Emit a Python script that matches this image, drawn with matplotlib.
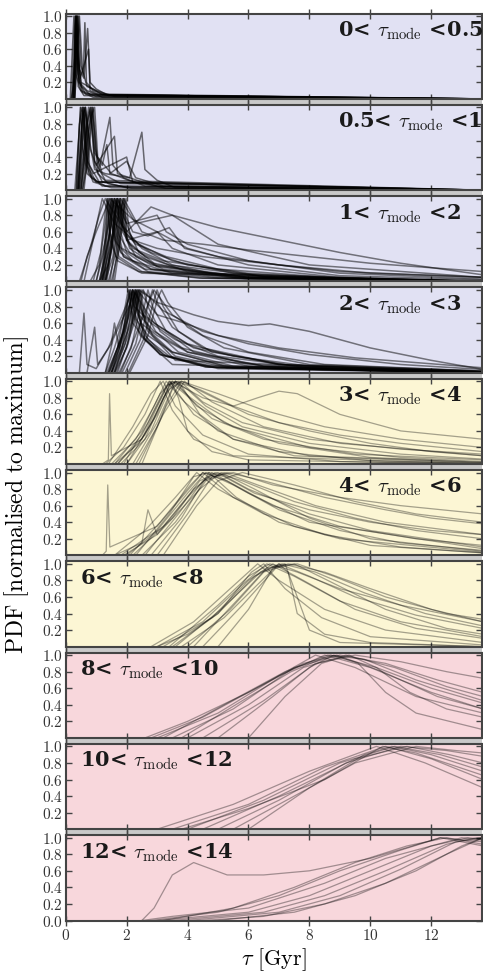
import matplotlib
matplotlib.use("Agg")
import matplotlib.pyplot as plt
from matplotlib.patches import Rectangle
from matplotlib.ticker import FuncFormatter

plt.rcParams['mathtext.fontset'] = 'cm'
plt.rcParams['font.family'] = ['DejaVu Serif']

# mode bins of the panels
BIN_LOW = ["0", "0.5", "1", "2", "3", "4", "6", "8", "10", "12"]
BIN_HIGH = ["0.5", "1", "2", "3", "4", "6", "8", "10", "12", "14"]

# PDF curves, (tau [Gyr], pdf) knots
CURVES_0 = [
    [(0.18, 0), (0.28, 0.2), (0.33, 1.0), (0.40, 0.3), (0.55, 0.08), (0.9, 0.02), (13.7, 0)],
    [(0.22, 0), (0.30, 0.5), (0.35, 1.0), (0.41, 0.15), (0.6, 0.04), (13.7, 0)],
    [(0.25, 0), (0.32, 0.6), (0.37, 1.0), (0.43, 0.4), (0.52, 0.15), (0.8, 0.05), (13.7, 0)],
    [(0.20, 0), (0.31, 1.0), (0.36, 0.5), (0.45, 0.2), (0.7, 0.1), (1.2, 0.02), (13.7, 0)],
    [(0.28, 0), (0.36, 0.7), (0.39, 1.0), (0.46, 0.35), (0.60, 0.25), (0.72, 0.85), (0.80, 0.2),
     (1.0, 0.12), (1.4, 0.04), (13.7, 0)],
    [(0.30, 0), (0.42, 1.0), (0.50, 0.4), (0.58, 0.3), (0.63, 0.92), (0.68, 0.2), (0.9, 0.1),
     (1.3, 0.05), (13.7, 0)],
    [(0.15, 0), (0.27, 1.0), (0.33, 0.3), (0.5, 0.1), (1.0, 0.03), (13.7, 0)],
    [(0.30, 0), (0.45, 1.0), (0.55, 0.35), (0.7, 0.15), (1.0, 0.1), (1.6, 0.03), (13.7, 0)],
    [(0.26, 0), (0.34, 1.0), (0.38, 0.6), (0.48, 0.25), (0.75, 0.6), (0.8, 0.1), (1.1, 0.05), (13.7, 0)],
    [(0.24, 0), (0.32, 0.8), (0.34, 1.0), (0.37, 0.7), (0.44, 0.2), (0.65, 0.06), (13.7, 0)],
    [(0.27, 0), (0.35, 0.9), (0.38, 1.0), (0.42, 0.5), (0.5, 0.2), (0.9, 0.12), (1.2, 0.05), (13.7, 0)],
]
CURVES_1 = [
    [(0.30, 0), (0.42, 0.6), (0.50, 1.0), (0.60, 0.9), (0.68, 0.3), (0.9, 0.1), (1.5, 0.03), (13.7, 0)],
    [(0.35, 0), (0.45, 0.8), (0.55, 1.0), (0.62, 0.6), (0.75, 0.2), (1.2, 0.05), (13.7, 0)],
    [(0.38, 0), (0.50, 0.7), (0.60, 1.0), (0.70, 0.4), (0.85, 0.15), (1.3, 0.05), (13.7, 0)],
    [(0.45, 0), (0.60, 0.5), (0.75, 1.0), (0.85, 0.8), (0.95, 0.3), (1.2, 0.1), (2.0, 0.03), (13.7, 0)],
    [(0.50, 0), (0.70, 0.6), (0.85, 1.0), (0.95, 0.7), (1.05, 0.2), (1.4, 0.08), (2.2, 0.02), (13.7, 0)],
    [(0.55, 0), (0.75, 0.4), (0.90, 1.0), (1.00, 0.5), (1.10, 0.25), (1.45, 0.88), (1.55, 0.3),
     (1.9, 0.15), (2.6, 0.05), (13.7, 0)],
    [(0.40, 0), (0.55, 0.9), (0.65, 1.0), (0.80, 0.5), (1.00, 0.3), (1.60, 0.65), (1.70, 0.2),
     (2.5, 0.1), (3.3, 0.02), (13.7, 0)],
    [(0.45, 0), (0.65, 1.0), (0.78, 0.6), (0.95, 0.25), (1.30, 0.2), (2.10, 0.15), (2.50, 0.7),
     (2.60, 0.25), (3.0, 0.12), (3.6, 0.03), (13.7, 0)],
    [(0.50, 0), (0.70, 0.8), (0.82, 1.0), (0.95, 0.45), (1.20, 0.3), (1.35, 0.55), (1.45, 0.2),
     (2.00, 0.35), (2.3, 0.15), (3.2, 0.05), (13.7, 0)],
    [(0.60, 0), (0.85, 0.9), (0.95, 1.0), (1.05, 0.4), (1.5, 0.2), (2.2, 0.1), (3.0, 0.05), (13.7, 0)],
    [(0.35, 0), (0.48, 1.0), (0.56, 0.5), (0.7, 0.2), (1.0, 0.1), (13.7, 0)],
    [(0.42, 0), (0.58, 1.0), (0.66, 0.9), (0.72, 0.35), (0.9, 0.2), (2.0, 0.4), (2.2, 0.1), (13.7, 0)],
    [(0.40, 0), (0.50, 0.5), (0.56, 1.0), (0.62, 0.7), (0.70, 0.3), (1.0, 0.1), (13.7, 0)],
    [(0.42, 0), (0.55, 0.6), (0.63, 1.0), (0.70, 0.8), (0.78, 0.3), (1.1, 0.1), (13.7, 0)],
    [(0.50, 0), (0.65, 0.6), (0.80, 1.0), (0.88, 0.7), (0.95, 0.35), (1.3, 0.12), (13.7, 0)],
    [(0.55, 0), (0.75, 0.7), (0.88, 1.0), (0.96, 0.5), (1.2, 0.2), (1.8, 0.08), (13.7, 0)],
]
CURVES_2 = [
    [(0.90, 0), (1.15, 0.35), (1.27, 0.75), (1.35, 1.0), (1.45, 0.6), (1.65, 0.3), (2.4, 0.12), (4.4, 0.04), (13.7, 0)],
    [(1.00, 0), (1.25, 0.35), (1.37, 0.75), (1.45, 1.0), (1.55, 0.6), (1.75, 0.3), (2.5, 0.12), (4.5, 0.04), (13.7, 0)],
    [(1.10, 0), (1.30, 0.3), (1.42, 0.8), (1.50, 1.0), (1.58, 0.7), (1.80, 0.35), (2.6, 0.15), (5.0, 0.05), (13.7, 0)],
    [(1.20, 0), (1.40, 0.35), (1.52, 0.8), (1.60, 1.0), (1.70, 0.55), (1.90, 0.3), (2.7, 0.12), (5.0, 0.04), (13.7, 0)],
    [(1.25, 0), (1.50, 0.4), (1.62, 0.85), (1.70, 1.0), (1.80, 0.6), (2.00, 0.35), (2.8, 0.15), (5.5, 0.05), (13.7, 0)],
    [(1.30, 0), (1.55, 0.3), (1.70, 0.75), (1.80, 1.0), (1.90, 0.65), (2.10, 0.4), (3.0, 0.18), (6.0, 0.05), (13.7, 0)],
    [(1.40, 0), (1.65, 0.35), (1.80, 0.8), (1.90, 1.0), (2.00, 0.5), (2.30, 0.3), (3.2, 0.15), (6.0, 0.04), (13.7, 0)],
    [(1.50, 0), (1.75, 0.4), (1.90, 0.85), (1.98, 1.0), (2.08, 0.6), (2.40, 0.35), (3.4, 0.2), (6.5, 0.06), (13.7, 0)],
    [(1.15, 0), (1.40, 0.5), (1.50, 0.9), (1.55, 1.0), (1.62, 0.75), (1.85, 0.4), (2.8, 0.2), (5.5, 0.06), (13.7, 0)],
    [(0.80, 0), (1.10, 0.2), (1.30, 0.7), (1.40, 1.0), (1.50, 0.7), (1.70, 0.45), (2.2, 0.25), (3.5, 0.1), (13.7, 0)],
    [(1.10, 0), (1.40, 0.2), (1.55, 0.6), (1.65, 1.0), (1.75, 0.8), (2.00, 0.5), (2.6, 0.3), (4.0, 0.12), (8.0, 0.03), (13.7, 0)],
    [(1.30, 0), (1.55, 0.45), (1.68, 0.9), (1.75, 1.0), (1.85, 0.7), (2.10, 0.45), (2.9, 0.22), (4.5, 0.1), (13.7, 0)],
    [(1.15, 0), (1.30, 0.5), (1.38, 1.0), (1.46, 0.5), (1.70, 0.25), (2.5, 0.1), (13.7, 0)],
    [(1.25, 0), (1.45, 0.6), (1.53, 1.0), (1.62, 0.5), (1.90, 0.3), (2.8, 0.15), (6.0, 0.03), (13.7, 0)],
    [(1.35, 0), (1.58, 0.6), (1.67, 1.0), (1.76, 0.55), (2.10, 0.35), (3.0, 0.2), (6.0, 0.05), (13.7, 0)],
    [(1.45, 0), (1.70, 0.6), (1.78, 1.0), (1.86, 0.6), (2.20, 0.4), (3.2, 0.25), (6.5, 0.06), (13.7, 0)],
    [(1.55, 0), (1.78, 0.6), (1.86, 1.0), (1.94, 0.6), (2.30, 0.45), (3.3, 0.3), (5.0, 0.15), (9.0, 0.04), (13.7, 0)],
    [(1.60, 0), (1.85, 0.65), (1.93, 1.0), (2.02, 0.5), (2.50, 0.55), (3.0, 0.6), (3.5, 0.4), (5.0, 0.2), (9.0, 0.05), (13.7, 0)],
    [(0.45, 0), (0.80, 0.4), (1.10, 0.8), (1.30, 1.0), (1.80, 0.7), (2.5, 0.4), (3.5, 0.2), (5.0, 0.08), (8.0, 0.02), (13.7, 0)],
    [(0.60, 0), (0.90, 0.5), (1.20, 1.0), (1.60, 0.7), (2.4, 0.45), (3.5, 0.25), (5.5, 0.1), (9.0, 0.03), (13.7, 0)],
    [(1.00, 0), (1.30, 0.5), (1.60, 1.0), (2.00, 0.6), (2.8, 0.9), (3.5, 0.8), (5.0, 0.45), (8.0, 0.2), (13.7, 0.05)],
    [(1.20, 0), (1.50, 0.5), (1.80, 1.0), (2.30, 0.7), (3.5, 0.8), (5.0, 0.65), (7.0, 0.5), (9.0, 0.35),
     (11.0, 0.22), (13.7, 0.08)],
    [(1.30, 0), (1.60, 0.6), (1.90, 1.0), (2.50, 0.6), (3.2, 0.5), (4.5, 0.45), (6.0, 0.38), (8.0, 0.3),
     (10.0, 0.22), (13.7, 0.12)],
    [(1.10, 0), (1.40, 0.5), (1.70, 1.0), (2.20, 0.5), (3.0, 0.4), (4.5, 0.3), (6.5, 0.22), (9.0, 0.12), (13.7, 0.05)],
    [(1.20, 0), (1.35, 0.6), (1.50, 1.0), (2.00, 0.55), (2.8, 0.35), (4.0, 0.2), (6.0, 0.1), (9.0, 0.04), (13.7, 0.01)],
    [(0.50, 0), (0.70, 0.3), (1.00, 0.6), (1.45, 1.0), (2.2, 0.75), (3.0, 0.6), (4.0, 0.4), (6.0, 0.2), (9.0, 0.07), (13.7, 0.02)],
    [(1.20, 0), (1.60, 1.0), (2.00, 0.7), (2.5, 0.75), (3.0, 0.8), (3.3, 0.6), (4.0, 0.45), (6.0, 0.25), (9.0, 0.1), (13.7, 0.03)],
    [(1.30, 0), (1.70, 1.0), (2.20, 0.6), (2.7, 0.55), (3.4, 0.65), (3.9, 0.4), (5.0, 0.3), (7.0, 0.2), (10.0, 0.1), (13.7, 0.05)],
]
CURVES_3 = [
    [(1.35, 0), (1.70, 0.3), (1.93, 0.75), (2.05, 1.0), (2.17, 0.75), (2.45, 0.45), (3.1, 0.22), (4.6, 0.07), (13.7, 0)],
    [(1.42, 0), (1.77, 0.3), (2.00, 0.75), (2.12, 1.0), (2.24, 0.75), (2.52, 0.45), (3.1, 0.22), (4.6, 0.07), (13.7, 0)],
    [(1.50, 0), (1.85, 0.3), (2.08, 0.75), (2.20, 1.0), (2.32, 0.75), (2.60, 0.45), (3.2, 0.22), (4.7, 0.07), (13.7, 0)],
    [(1.45, 0), (1.80, 0.4), (2.12, 0.85), (2.25, 1.0), (2.38, 0.7), (2.70, 0.4), (3.4, 0.2), (5.0, 0.06), (13.7, 0)],
    [(1.55, 0), (1.95, 0.35), (2.18, 0.8), (2.30, 1.0), (2.42, 0.8), (2.75, 0.5), (3.5, 0.25), (5.2, 0.08), (13.7, 0)],
    [(1.60, 0), (2.00, 0.3), (2.25, 0.75), (2.38, 1.0), (2.50, 0.75), (2.85, 0.45), (3.6, 0.2), (5.3, 0.06), (13.7, 0)],
    [(1.65, 0), (2.05, 0.35), (2.32, 0.8), (2.45, 1.0), (2.58, 0.75), (2.95, 0.5), (3.7, 0.25), (5.5, 0.08), (13.7, 0)],
    [(1.75, 0), (2.15, 0.3), (2.42, 0.75), (2.55, 1.0), (2.70, 0.8), (3.10, 0.5), (4.0, 0.25), (6.0, 0.08), (13.7, 0)],
    [(1.85, 0), (2.30, 0.35), (2.58, 0.8), (2.70, 1.0), (2.85, 0.8), (3.30, 0.5), (4.2, 0.25), (6.5, 0.08), (13.7, 0)],
    [(1.95, 0), (2.45, 0.4), (2.72, 0.85), (2.85, 1.0), (3.00, 0.85), (3.50, 0.55), (4.5, 0.3), (7.0, 0.1), (13.7, 0.01)],
    [(2.05, 0), (2.55, 0.4), (2.88, 0.85), (3.00, 1.0), (3.20, 0.8), (3.70, 0.5), (4.8, 0.25), (7.5, 0.08), (13.7, 0.01)],
    [(2.10, 0), (2.70, 0.45), (3.02, 0.9), (3.15, 1.0), (3.35, 0.85), (4.00, 0.55), (5.2, 0.3), (8.0, 0.1), (13.7, 0.02)],
    [(1.40, 0), (1.90, 0.5), (2.08, 1.0), (2.20, 0.6), (2.60, 0.4), (3.3, 0.2), (5.0, 0.05), (13.7, 0)],
    [(1.50, 0), (2.00, 0.55), (2.18, 1.0), (2.30, 0.65), (2.70, 0.45), (3.5, 0.25), (5.5, 0.06), (13.7, 0)],
    [(1.60, 0), (2.10, 0.6), (2.28, 1.0), (2.40, 0.7), (2.90, 0.5), (3.8, 0.3), (6.0, 0.1), (13.7, 0.01)],
    [(1.50, 0), (2.15, 0.6), (2.34, 1.0), (2.46, 0.6), (3.00, 0.45), (4.0, 0.25), (6.5, 0.08), (13.7, 0.01)],
    [(1.70, 0), (2.25, 0.6), (2.42, 1.0), (2.55, 0.7), (3.10, 0.55), (4.2, 0.3), (7.0, 0.1), (13.7, 0.02)],
    [(1.30, 0), (1.60, 0.3), (2.00, 0.8), (2.12, 1.0), (2.25, 0.8), (2.80, 0.6), (3.6, 0.4), (5.0, 0.2), (8.0, 0.06), (13.7, 0)],
    [(0.45, 0), (0.60, 0.72), (0.70, 0.1), (1.0, 0.05), (1.40, 0.3), (2.20, 1.0), (2.60, 0.4), (3.5, 0.1), (13.7, 0)],
    [(0.70, 0), (0.95, 0.55), (1.05, 0.1), (1.50, 0.35), (1.60, 0.6), (1.75, 0.3), (2.30, 1.0), (2.70, 0.5),
     (3.6, 0.15), (13.7, 0)],
    [(1.50, 0), (2.00, 0.6), (2.40, 1.0), (3.0, 0.85), (3.8, 0.75), (4.2, 0.7), (5.0, 0.62), (6.0, 0.57),
     (6.7, 0.59), (8.0, 0.5), (10.0, 0.3), (12.0, 0.15), (13.7, 0.04)],
    [(1.60, 0), (2.10, 0.5), (2.50, 1.0), (3.2, 0.75), (4.5, 0.5), (6.0, 0.35), (8.0, 0.22), (11.0, 0.1), (13.7, 0.04)],
    [(1.40, 0), (1.90, 0.5), (2.20, 1.0), (2.9, 0.6), (4.0, 0.35), (5.5, 0.2), (8.0, 0.08), (13.7, 0.01)],
    [(1.80, 0), (2.40, 0.55), (2.90, 1.0), (3.5, 0.7), (4.5, 0.45), (6.0, 0.25), (8.5, 0.1), (13.7, 0.02)],
    [(1.30, 0), (1.55, 0.4), (1.80, 0.6), (2.35, 1.0), (3.0, 0.7), (3.9, 0.6), (5.0, 0.45), (7.0, 0.3),
     (9.5, 0.18), (13.7, 0.06)],
]
CURVES_4 = [
    [(1.5, 0), (2.3, 0.3), (2.9, 0.7), (3.3, 1.0), (3.9, 0.75), (5.0, 0.4), (7.0, 0.15), (10.0, 0.04), (13.7, 0.01)],
    [(1.6, 0), (2.5, 0.4), (3.1, 0.85), (3.5, 1.0), (4.1, 0.8), (5.2, 0.5), (7.0, 0.25), (10.0, 0.08), (13.7, 0.02)],
    [(1.8, 0), (2.6, 0.3), (3.2, 0.8), (3.6, 1.0), (4.3, 0.7), (5.5, 0.45), (8.0, 0.2), (11.0, 0.08), (13.7, 0.03)],
    [(1.4, 0), (2.2, 0.45), (2.8, 0.85), (3.2, 1.0), (3.6, 0.7), (4.5, 0.35), (6.0, 0.12), (9.0, 0.03), (13.7, 0)],
    [(2.0, 0), (2.8, 0.4), (3.4, 0.9), (3.8, 1.0), (4.6, 0.85), (6.0, 0.6), (8.0, 0.4), (10.0, 0.25), (12.0, 0.15), (13.7, 0.1)],
    [(2.2, 0), (3.0, 0.5), (3.6, 1.0), (4.4, 0.9), (5.5, 0.7), (7.0, 0.5), (9.0, 0.35), (11.0, 0.25), (13.7, 0.15)],
    [(1.2, 0), (1.40, 0.05), (1.44, 0.85), (1.5, 0.1), (2.5, 0.3), (3.4, 1.0), (4.2, 0.6), (5.5, 0.3), (8.0, 0.1), (13.7, 0.02)],
    [(1.7, 0), (2.6, 0.35), (3.5, 1.0), (4.5, 0.8), (5.5, 0.7), (6.3, 0.8), (7.0, 0.88), (7.6, 0.85), (9.0, 0.6),
     (11.0, 0.4), (13.7, 0.3)],
    [(2.4, 0), (3.2, 0.6), (3.9, 1.0), (4.8, 0.75), (6.5, 0.45), (9.0, 0.25), (13.7, 0.1)],
    [(1.9, 0), (2.7, 0.5), (3.3, 0.95), (3.7, 1.0), (4.4, 0.6), (5.5, 0.3), (7.5, 0.1), (13.7, 0.01)],
    [(2.5, 0), (3.3, 0.7), (3.8, 1.0), (5.0, 0.85), (6.5, 0.65), (8.5, 0.45), (11.0, 0.3), (13.7, 0.2)],
    [(1.3, 0), (1.9, 0.2), (2.6, 0.6), (3.1, 1.0), (3.5, 0.65), (4.2, 0.3), (5.5, 0.1), (13.7, 0)],
    [(1.6, 0), (2.4, 0.25), (3.0, 0.6), (3.45, 1.0), (3.7, 0.8), (4.0, 0.4), (4.8, 0.15), (6.0, 0.05), (13.7, 0)],
    [(2.0, 0), (2.9, 0.55), (3.4, 0.95), (3.6, 1.0), (4.0, 0.9), (4.6, 0.7), (5.8, 0.45), (8.0, 0.25), (11.0, 0.12), (13.7, 0.06)],
    [(1.7, 0), (2.5, 0.35), (3.2, 0.85), (3.4, 1.0), (3.9, 0.85), (4.8, 0.55), (6.5, 0.3), (9.5, 0.12), (13.7, 0.05)],
    [(2.3, 0), (3.0, 0.45), (3.5, 0.9), (3.75, 1.0), (4.5, 0.75), (5.8, 0.5), (8.0, 0.3), (11.0, 0.18), (13.7, 0.12)],
]
CURVES_5 = [
    [(1.8, 0), (3.0, 0.3), (4.0, 0.75), (4.6, 1.0), (5.5, 0.85), (7.0, 0.55), (9.0, 0.3), (11.0, 0.15), (13.7, 0.06)],
    [(2.0, 0), (3.2, 0.35), (4.2, 0.8), (4.9, 1.0), (5.8, 0.9), (7.5, 0.65), (9.5, 0.45), (11.5, 0.3), (13.7, 0.2)],
    [(2.2, 0), (3.5, 0.45), (4.4, 0.9), (5.0, 1.0), (6.0, 0.8), (8.0, 0.5), (10.0, 0.3), (13.7, 0.1)],
    [(1.6, 0), (2.6, 0.3), (3.6, 0.7), (4.3, 1.0), (5.0, 0.8), (6.5, 0.5), (8.5, 0.25), (11.0, 0.1), (13.7, 0.03)],
    [(2.5, 0), (3.6, 0.4), (4.6, 0.9), (5.3, 1.0), (6.5, 0.9), (8.5, 0.7), (10.5, 0.55), (12.0, 0.45), (13.7, 0.38)],
    [(3.0, 0), (4.0, 0.5), (4.8, 0.95), (5.5, 1.0), (6.8, 0.85), (9.0, 0.7), (11.0, 0.6), (13.7, 0.5)],
    [(1.2, 0), (1.33, 0.05), (1.38, 0.85), (1.45, 0.1), (3.0, 0.35), (4.5, 1.0), (5.5, 0.7), (7.5, 0.35), (10.0, 0.12), (13.7, 0.03)],
    [(2.8, 0), (3.8, 0.45), (4.7, 1.0), (5.2, 0.95), (6.2, 0.75), (8.0, 0.55), (10.0, 0.4), (12.0, 0.3), (13.7, 0.25)],
    [(1.9, 0), (3.0, 0.25), (3.9, 0.6), (4.4, 0.8), (5.1, 1.0), (6.2, 0.8), (8.0, 0.45), (10.0, 0.2), (13.7, 0.05)],
    [(2.3, 0), (3.4, 0.5), (4.2, 0.95), (4.7, 1.0), (5.6, 0.7), (7.0, 0.4), (9.0, 0.2), (13.7, 0.04)],
    [(3.2, 0), (4.3, 0.6), (5.0, 0.9), (5.8, 1.0), (7.5, 0.85), (9.5, 0.65), (11.5, 0.5), (13.7, 0.4)],
    [(1.6, 0), (2.5, 0.15), (2.7, 0.55), (3.0, 0.25), (4.0, 0.7), (4.8, 1.0), (6.0, 0.75), (8.0, 0.4), (13.7, 0.08)],
    [(2.1, 0), (3.1, 0.4), (4.1, 0.85), (4.5, 1.0), (5.3, 0.9), (6.8, 0.6), (9.0, 0.35), (11.5, 0.2), (13.7, 0.12)],
    [(2.6, 0), (3.7, 0.5), (4.5, 0.9), (5.2, 1.0), (6.3, 0.85), (8.2, 0.6), (10.5, 0.4), (13.7, 0.25)],
]
CURVES_6 = [
    [(3.0, 0), (4.5, 0.3), (5.8, 0.75), (6.6, 1.0), (7.5, 0.85), (9.0, 0.55), (11.0, 0.3), (13.7, 0.12)],
    [(3.5, 0), (5.0, 0.4), (6.2, 0.85), (7.0, 1.0), (8.0, 0.85), (9.5, 0.6), (11.5, 0.38), (13.7, 0.22)],
    [(3.2, 0), (4.8, 0.35), (6.0, 0.8), (6.8, 1.0), (7.8, 0.8), (9.5, 0.45), (11.5, 0.22), (13.7, 0.1)],
    [(4.0, 0), (5.4, 0.45), (6.5, 0.9), (7.3, 1.0), (8.5, 0.9), (10.0, 0.7), (12.0, 0.45), (13.7, 0.3)],
    [(4.5, 0), (5.8, 0.5), (6.9, 0.95), (7.6, 1.0), (8.8, 0.85), (10.5, 0.6), (12.5, 0.4), (13.7, 0.33)],
    [(2.8, 0), (4.2, 0.3), (5.4, 0.7), (6.3, 1.0), (7.0, 0.8), (8.5, 0.45), (10.5, 0.2), (13.7, 0.05)],
    [(3.8, 0), (5.2, 0.35), (6.3, 0.75), (7.0, 1.0), (7.3, 0.9), (7.6, 0.4), (8.5, 0.15), (10.0, 0.05), (13.7, 0)],
    [(5.0, 0), (6.0, 0.45), (6.8, 0.95), (7.2, 1.0), (7.6, 0.6), (8.0, 0.2), (9.0, 0.05), (13.7, 0)],
    [(3.4, 0), (5.0, 0.5), (6.0, 0.85), (6.7, 1.0), (7.6, 0.9), (9.0, 0.7), (11.0, 0.5), (13.7, 0.3)],
    [(4.2, 0), (5.6, 0.55), (6.6, 0.95), (7.5, 1.0), (8.6, 0.8), (10.5, 0.45), (12.5, 0.22), (13.7, 0.15)],
    [(3.0, 0), (4.0, 0.15), (5.0, 0.4), (6.1, 0.9), (6.5, 1.0), (7.2, 0.7), (8.4, 0.35), (10.0, 0.12), (13.7, 0.02)],
    [(3.6, 0), (5.1, 0.45), (6.4, 0.9), (7.1, 1.0), (8.2, 0.9), (9.8, 0.65), (11.8, 0.4), (13.7, 0.25)],
]
CURVES_7 = [
    [(3.0, 0), (5.0, 0.3), (7.0, 0.75), (8.5, 1.0), (10.0, 0.85), (12.0, 0.55), (13.7, 0.35)],
    [(3.5, 0), (5.5, 0.35), (7.5, 0.85), (9.0, 1.0), (10.5, 0.9), (12.2, 0.7), (13.7, 0.55)],
    [(4.0, 0), (6.0, 0.4), (7.8, 0.85), (9.2, 1.0), (10.8, 0.85), (12.5, 0.62), (13.7, 0.5)],
    [(2.8, 0), (4.5, 0.25), (6.5, 0.65), (8.2, 1.0), (9.5, 0.85), (11.5, 0.5), (13.7, 0.3)],
    [(4.5, 0), (6.5, 0.45), (8.2, 0.9), (9.5, 1.0), (11.0, 0.92), (12.5, 0.8), (13.7, 0.72)],
    [(5.0, 0), (6.8, 0.5), (8.0, 0.85), (8.8, 1.0), (9.6, 0.9), (10.5, 0.55), (11.5, 0.3), (13.7, 0.1)],
    [(3.2, 0), (5.2, 0.4), (7.2, 0.8), (8.6, 1.0), (9.8, 0.95), (11.5, 0.7), (13.7, 0.45)],
    [(6.0, 0), (7.2, 0.5), (8.4, 0.9), (9.3, 1.0), (10.2, 0.85), (11.3, 0.55), (12.5, 0.35), (13.7, 0.25)],
    [(3.8, 0), (5.8, 0.45), (7.4, 0.8), (8.7, 1.0), (10.2, 0.85), (12.0, 0.6), (13.7, 0.42)],
    [(2.6, 0), (4.0, 0.2), (6.0, 0.55), (7.8, 0.9), (8.9, 1.0), (10.4, 0.8), (12.2, 0.5), (13.7, 0.35)],
]
CURVES_8 = [
    [(3.5, 0), (6.0, 0.3), (8.5, 0.75), (10.5, 1.0), (12.0, 0.85), (13.7, 0.6)],
    [(4.0, 0), (6.5, 0.35), (9.0, 0.8), (10.8, 1.0), (12.3, 0.9), (13.7, 0.75)],
    [(3.0, 0), (5.5, 0.3), (8.0, 0.7), (10.2, 1.0), (11.8, 0.8), (13.7, 0.5)],
    [(5.0, 0), (7.0, 0.35), (9.2, 0.8), (11.0, 1.0), (12.5, 0.95), (13.7, 0.88)],
    [(4.5, 0), (7.0, 0.4), (9.5, 0.85), (11.2, 1.0), (12.6, 0.9), (13.7, 0.8)],
    [(6.0, 0), (8.0, 0.5), (9.8, 0.9), (10.7, 1.0), (12.0, 0.9), (13.7, 0.7)],
    [(3.8, 0), (6.0, 0.25), (8.5, 0.6), (10.4, 1.0), (11.5, 0.92), (13.7, 0.65)],
    [(5.5, 0), (7.5, 0.4), (9.5, 0.8), (11.5, 1.0), (12.8, 0.95), (13.7, 0.92)],
]
CURVES_9 = [
    [(3.0, 0), (6.0, 0.1), (8.0, 0.3), (10.0, 0.6), (12.0, 0.9), (13.0, 1.0), (13.7, 0.97)],
    [(3.5, 0), (6.5, 0.1), (8.5, 0.3), (10.5, 0.6), (12.5, 0.92), (13.5, 1.0), (13.7, 1.0)],
    [(4.0, 0), (7.0, 0.1), (9.0, 0.3), (11.0, 0.62), (12.8, 0.95), (13.7, 1.0)],
    [(2.8, 0), (5.0, 0.1), (7.0, 0.3), (9.0, 0.6), (11.0, 0.85), (12.3, 1.0), (13.7, 0.9)],
    [(5.0, 0), (7.5, 0.1), (9.5, 0.3), (11.5, 0.6), (13.0, 0.9), (13.7, 1.0)],
    [(2.5, 0), (2.9, 0.15), (3.5, 0.55), (4.2, 0.7), (5.3, 0.55), (6.5, 0.55), (8.0, 0.6), (10.0, 0.75),
     (12.3, 1.0), (13.7, 0.95)],
    [(2.5, 0), (3.5, 0.05), (6.0, 0.15), (8.5, 0.45), (10.5, 0.75), (12.0, 0.9), (13.2, 1.0), (13.7, 0.98)],
    [(4.5, 0), (6.5, 0.05), (8.5, 0.2), (10.5, 0.45), (12.5, 0.8), (13.7, 1.0)],
    [(3.2, 0), (5.5, 0.15), (7.5, 0.4), (9.5, 0.7), (11.2, 0.9), (12.5, 1.0), (13.7, 0.92)],
]
ALL_CURVES = [CURVES_0, CURVES_1, CURVES_2, CURVES_3, CURVES_4,
              CURVES_5, CURVES_6, CURVES_7, CURVES_8, CURVES_9]

LAVENDER = '#e1e1f3'
YELLOW = '#fcf6d4'
PINK = '#f8d7dc'
BG = [LAVENDER] * 4 + [YELLOW] * 3 + [PINK] * 3
LINE_ALPHA = [0.6, 0.55, 0.5, 0.5, 0.35, 0.35, 0.35, 0.35, 0.35, 0.35]
LINE_WIDTH = [1.1, 1.1, 1.1, 1.1, 0.9, 0.9, 0.9, 0.9, 0.9, 0.9]
TITLE_X = [0.655] * 6 + [0.034] * 4

fig, axes = plt.subplots(10, 1, figsize=(4.83, 9.71), dpi=100, sharex=True)
fig.subplots_adjust(left=0.136, right=0.997, top=0.986, bottom=0.052, hspace=0.07)
fig.add_artist(Rectangle((0.136, 0.052), 0.861, 0.934, transform=fig.transFigure,
                         facecolor='#c9c9c9', edgecolor='none', zorder=-1))

fmt_y = FuncFormatter(lambda v, _: r"$%.1f$" % v)
fmt_x = FuncFormatter(lambda v, _: r"$%d$" % v)

for i, ax in enumerate(axes):
    ax.set_facecolor(BG[i])
    for c in ALL_CURVES[i]:
        ax.plot([p[0] for p in c], [p[1] for p in c], color='k',
                lw=LINE_WIDTH[i], alpha=LINE_ALPHA[i])
    ax.set_xlim(0, 13.65)
    ax.set_ylim(0, 1.03)
    if i == 9:
        ax.set_yticks([0.0, 0.2, 0.4, 0.6, 0.8, 1.0])
    else:
        ax.set_yticks([0.2, 0.4, 0.6, 0.8, 1.0])
    ax.set_xticks([0, 2, 4, 6, 8, 10, 12])
    ax.yaxis.set_major_formatter(fmt_y)
    ax.xaxis.set_major_formatter(fmt_x)
    ax.tick_params(direction='in', top=True, right=True, length=4, width=1,
                   color='#444444', labelsize=11, labelcolor='#333333', pad=2)
    ax.tick_params(axis='x', direction='inout', length=7)
    for s in ax.spines.values():
        s.set_color('#444444')
        s.set_linewidth(1.5)
    title = r"%s< $\tau_{\rm mode}$ <%s" % (BIN_LOW[i], BIN_HIGH[i])
    ax.text(TITLE_X[i], 0.8, title, transform=ax.transAxes, ha='left', va='center',
            fontsize=15, fontweight='bold', color='#1a1a1a')

axes[-1].set_xlabel(r"$\tau\ [\mathrm{Gyr}]$", fontsize=16, labelpad=2)
fig.text(0.035, 0.49, r"$\mathrm{PDF\ [normalised\ to\ maximum]}$", rotation=90,
         ha='center', va='center', fontsize=17)

fig.savefig('out.png', dpi=100)
